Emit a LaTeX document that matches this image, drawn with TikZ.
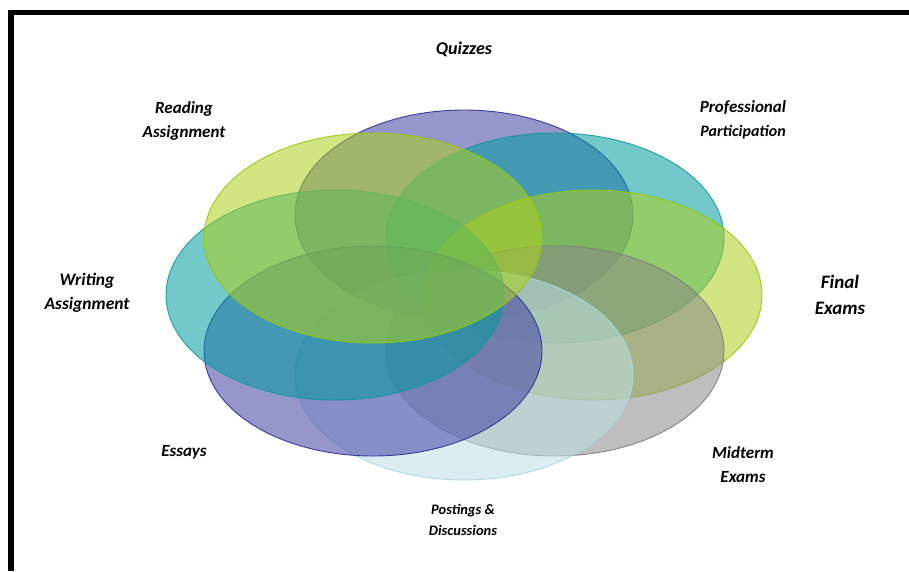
\documentclass[tikz,border=0pt]{standalone}
\usepackage{fontspec}
\setmainfont{Carlito}
\usetikzlibrary{shapes.geometric}

% fill and outline colours of the eight petals
\definecolor{violetfill}{RGB}{64,64,164}
\definecolor{violetline}{RGB}{45,45,150}
\definecolor{tealfill}{RGB}{0,155,158}
\definecolor{tealline}{RGB}{15,150,160}
\definecolor{limefill}{RGB}{172,208,30}
\definecolor{limeline}{RGB}{150,200,0}
\definecolor{greyfill}{RGB}{137,137,137}
\definecolor{greyline}{RGB}{125,125,125}
\definecolor{mistfill}{RGB}{190,224,228}
\definecolor{mistline}{RGB}{165,218,224}

\begin{document}
\begin{tikzpicture}[x=1pt,y=-1pt,
  petal/.style={ellipse, minimum width=338pt, minimum height=210pt,
    inner sep=0pt, fill opacity=0.55, draw opacity=0.9, line width=0.9pt},
  caption/.style={font=\bfseries\itshape\fontsize{17}{24}\selectfont,
    align=center, inner sep=0pt},
  bigcaption/.style={caption, font=\bfseries\itshape\fontsize{19}{26}\selectfont},
  smallcaption/.style={caption, font=\bfseries\itshape\fontsize{14.5}{21}\selectfont}]

\useasboundingbox (0,0) rectangle (909,571);
\fill[white] (0,0) rectangle (909,571);

% frame along the top and left edges
\draw[line width=5.5pt] (11,571) -- (11,12.5) -- (909,12.5);

% ring of overlapping petals, drawn clockwise from the top
\node[petal, fill=violetfill, draw=violetline] (quiz)  at (464,215) {};
\node[petal, fill=tealfill,   draw=tealline]   (prof)  at (555,238) {};
\node[petal, fill=limefill,   draw=limeline]   (final) at (593,295) {};
\node[petal, fill=greyfill,   draw=greyline]   (mid)   at (555,351) {};
\node[petal, fill=mistfill,   draw=mistline]   (post)  at (464,375) {};
\node[petal, fill=violetfill, draw=violetline] (essay) at (373,351) {};
\node[petal, fill=tealfill,   draw=tealline]   (write) at (335,295) {};
\node[petal, fill=limefill,   draw=limeline]   (read)  at (373,238) {};

% labels
\node[caption, font=\bfseries\itshape\fontsize{18}{24}\selectfont] (tquiz) at (464,49) {Quizzes};
\node[caption] (tread)  at (184,121) {Reading\\Assignment};
\node[caption] (tprof)  at (743,120) {Professional\\{\fontsize{16}{24}\selectfont Participation}};
\node[caption, font=\bfseries\itshape\fontsize{17.5}{24}\selectfont] (twrite) at (87,293) {Writing\\Assignment};
\node[bigcaption] (tfinal) at (840,295) {Final\\Exams};
\node[caption] (tessay) at (184,452) {Essays};
\node[caption] (tmid)   at (743,465) {Midterm\\Exams};
\node[smallcaption] (tpost) at (463,520) {Postings \&\\Discussions};

\end{tikzpicture}
\end{document}
